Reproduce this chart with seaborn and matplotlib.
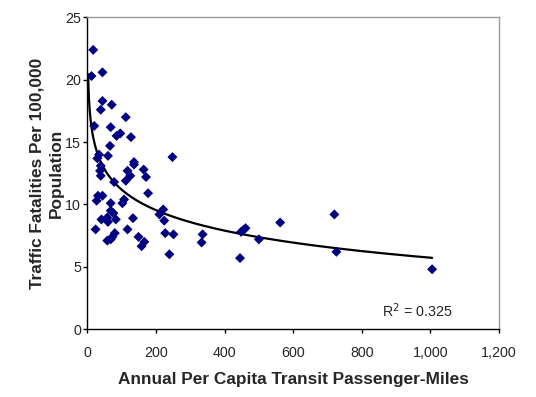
import matplotlib
matplotlib.use('Agg')
import matplotlib.pyplot as plt
from matplotlib.ticker import FuncFormatter
import seaborn as sns
import numpy as np
import pandas as pd

# transit miles per capita vs fatalities
transit_miles = [17, 44, 12, 44, 71, 39, 112, 20, 68, 85, 96, 127, 66, 34, 60, 29,
                 136, 136, 39, 37, 117, 164, 39, 125, 171, 112, 78, 177, 31, 44, 27,
                 107, 68, 102, 68, 76, 41, 58, 83, 60, 133, 24, 117, 80, 73, 58, 68,
                 149, 166, 158, 248, 221, 210, 224, 227, 251, 239, 336, 333, 448, 461,
                 455, 445, 500, 562, 720, 726, 1005]
fatalities = [22.4, 20.6, 20.3, 18.3, 18.0, 17.6, 17.0, 16.3, 16.2, 15.5, 15.7, 15.4,
              14.7, 14.0, 13.9, 13.7, 13.4, 13.2, 13.1, 12.7, 12.7, 12.8, 12.3, 12.3,
              12.2, 11.9, 11.8, 10.9, 10.7, 10.7, 10.3, 10.4, 10.1, 10.1, 9.5, 9.3,
              8.8, 8.95, 8.8, 8.6, 8.9, 8.0, 8.0, 7.7, 7.4, 7.1, 7.2, 7.4, 7.0, 6.65,
              13.8, 9.6, 9.2, 8.7, 7.7, 7.6, 6.0, 7.6, 6.95, 7.8, 8.1, 7.95, 5.7, 7.2,
              8.55, 9.2, 6.2, 4.8]

# logarithmic trendline y = c + b*ln(x), estimated from the drawn curve
trend_c = 22.1
trend_b = -2.37
trend_start, trend_end = 2, 1005
r_squared = 0.325

df = pd.DataFrame({'miles': transit_miles, 'fatal': fatalities})
tx = np.linspace(trend_start, trend_end, 400)
trend = pd.DataFrame({'miles': tx, 'fatal': trend_c + trend_b * np.log(tx)})

sns.set_style('white')
plt.rcParams['font.family'] = ['Liberation Sans', 'DejaVu Sans']

fig = plt.figure(figsize=(5.36, 3.97), dpi=100)
ax = fig.add_axes([0.163, 0.171, 0.768, 0.785])

sns.scatterplot(data=df, x='miles', y='fatal', marker='D', color='#000080',
                edgecolor='none', s=26, ax=ax, zorder=3)
sns.lineplot(data=trend, x='miles', y='fatal', color='black', linewidth=1.6,
             ax=ax, zorder=2)

ax.set_xlim(0, 1200)
ax.set_ylim(0, 25)
ax.set_xticks(range(0, 1201, 200))
ax.set_yticks(range(0, 26, 5))
ax.xaxis.set_major_formatter(FuncFormatter(lambda v, p: f'{v:,.0f}'))

for side in ['left', 'bottom']:
    ax.spines[side].set_color('black')
    ax.spines[side].set_linewidth(1.0)
for side in ['top', 'right']:
    ax.spines[side].set_color('#999999')
    ax.spines[side].set_linewidth(1.0)
ax.tick_params(axis='both', direction='out', length=3, width=1, color='black',
               labelsize=10.3, bottom=True, left=True)
ax.tick_params(axis='x', pad=9)
ax.tick_params(axis='y', pad=1.5)

ax.set_xlabel('Annual Per Capita Transit Passenger-Miles', fontsize=12.4,
              fontweight='bold', labelpad=9)
ax.set_ylabel('Traffic Fatalities Per 100,000\nPopulation', fontsize=12.4,
              fontweight='bold', labelpad=1, linespacing=1.35)

ax.text(0.888, 0.058, f'R$^2$ = {r_squared}', transform=ax.transAxes,
        ha='right', va='center', fontsize=10.3)

fig.savefig('out.png', dpi=100)
